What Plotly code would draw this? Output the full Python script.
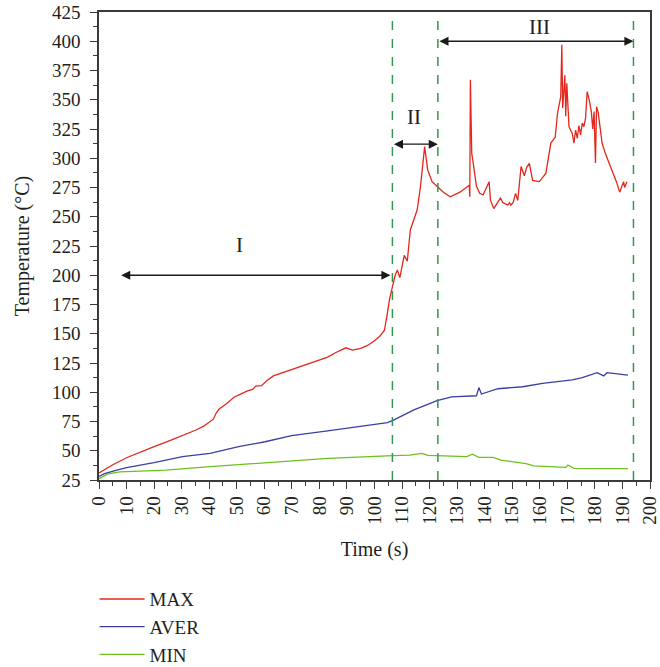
import plotly.graph_objects as go

# ---- data ----
max_t = [0, 5, 10, 15, 20, 25, 30, 35, 38, 40, 41.5, 42.5, 43.5, 46.5, 49, 51, 53.7, 55.9, 56.9, 59, 61, 63.3,
         70.5, 77, 83, 86, 89.6, 92, 95, 97.5, 100, 102, 103.6, 104.5, 105.5, 106.5, 107.5, 108.3, 109.2, 110.8,
         111.9, 113, 114.3, 115.5, 116.7, 118.2, 119.3, 120.9, 122.9, 125, 127.5, 131, 134.4, 134.6, 134.8, 135.3,
         136, 137, 138.2, 139.4, 141.6, 142.1, 143.3, 145.7, 146.6, 148.4, 149, 149.5, 150.3, 151.2, 152, 153.2,
         154.4, 155.2, 156.2, 157.4, 159.8, 162.2, 164, 165.6, 166.4, 167.6, 168, 168.3, 169.1, 169.4,
         169.8, 170.6, 171.8, 172.4, 173, 173.6, 174.2, 174.8, 175.4, 176, 176.6, 177.2, 178, 178.7, 179.2, 179.7,
         180.2, 180.6, 181.2, 182.6, 183.8, 186.2, 187.8, 189, 190.4, 190.8, 191.6]
max_v = [31, 38, 44, 49, 53.5, 58, 62.5, 67.5, 71, 74, 77, 82, 85.5, 90.5, 95.7, 98, 101, 102.6, 105.3, 105.6, 110, 114,
         120, 125, 130, 134, 138, 136, 137.5, 140, 144, 148, 153, 165, 180, 190, 200, 204.5, 198, 217,
         212, 238.7, 247, 256, 276, 310, 290, 280, 275.7, 271, 267, 271, 277, 267, 367, 304,
         293, 276, 270, 268.6, 280, 264, 257, 266, 262, 260, 262, 260, 262, 270, 264, 293,
         285, 292, 295.7, 281, 280, 287, 313, 318, 338, 352.6, 397, 343, 371, 336,
         364, 327, 321, 313, 324, 317, 328, 320, 330, 327, 334, 357, 349, 340, 325, 340,
         296, 344, 339, 313, 304, 290, 280, 271, 280, 275, 280]

aver_t = [0, 2, 5.8, 10, 20, 30.3, 40.3, 50.7, 60.3, 69.9, 83, 97.5, 104.7, 106.7, 114.3, 122.7, 128, 137,
          137.9, 138.8, 144.8, 153.8, 161, 171.8, 175.4, 180.8, 183.2, 184.4, 192]
aver_v = [28, 30.5, 33, 35.5, 39.8, 45, 47.8, 53.5, 57.7, 63, 67, 72, 74, 76, 85, 92.8, 96, 97,
          104, 98.5, 103, 104.7, 107.6, 110.5, 112.5, 116.7, 114, 116.7, 114.7]

min_t = [0, 3, 7.5, 14.7, 24.3, 40.3, 60.3, 83, 106.7, 112.7, 117.3, 119.4, 133.5, 135.5, 137.9, 143, 146,
         155, 157.8, 169.4, 170.2, 172.4, 192]
min_v = [26, 30, 32, 32.6, 33.5, 36.4, 40, 43.5, 45.8, 46.2, 47.8, 46, 45, 47, 44.4, 44.4, 42,
         39, 37, 35.8, 37.8, 35, 34.8]

series_names = ["MAX", "AVER", "MIN"]
series_colors = ["#e3271c", "#3b3fa2", "#6cc11e"]

phase_bounds = [106.5, 123, 194]
phase_labels = ["I", "II", "III"]
phase_arrow_start = [7.5, 106.5, 123]
phase_arrow_end = [105.8, 123, 194]
phase_arrow_y = [200, 312, 400]
phase_label_x = [51, 114.5, 160]
phase_label_y = [226, 335, 412]

FONT = "Liberation Serif, Times New Roman, serif"
TXT = "#231f20"

fig = go.Figure()
for name, tx, vy, col in zip(series_names, [max_t, aver_t, min_t], [max_v, aver_v, min_v], series_colors):
    fig.add_trace(go.Scatter(x=tx, y=vy, mode="lines", name=name,
                             line=dict(color=col, width=1.3)))

for xb in phase_bounds:
    fig.add_shape(type="line", x0=xb, x1=xb, y0=25, y1=418, xref="x", yref="y",
                  line=dict(color="#2e9a4c", width=1.5, dash="dash"))

for lab, xs, xe, ya, lx, ly in zip(phase_labels, phase_arrow_start, phase_arrow_end, phase_arrow_y,
                                   phase_label_x, phase_label_y):
    fig.add_annotation(x=xe, y=ya, ax=xs, ay=ya, xref="x", yref="y", axref="x", ayref="y",
                       text="", showarrow=True, arrowhead=2, arrowside="end+start",
                       arrowsize=1.4, arrowwidth=1.3, arrowcolor="#1a1a1a",
                       standoff=0, startstandoff=0)
    fig.add_annotation(x=lx, y=ly, xref="x", yref="y", text=lab, showarrow=False,
                       font=dict(family=FONT, size=21, color=TXT))

axis_common = dict(showline=True, linecolor="#3a3a3a", linewidth=1.5, mirror=True,
                   ticks="outside", ticklen=7, tickwidth=1.3, tickcolor="#3a3a3a",
                   showgrid=False, zeroline=False, automargin=False, ticklabeloverflow="allow",
                   tickfont=dict(family=FONT, size=19, color=TXT))

fig.update_xaxes(range=[0, 200], dtick=10, tick0=0, tickangle=-90, ticklabelstandoff=0,
                 minor=dict(dtick=5, ticklen=4, ticks="outside", tickcolor="#3a3a3a"),
                 title=dict(text="Time (s)", font=dict(family=FONT, size=20, color=TXT), standoff=18),
                 **axis_common)
fig.update_yaxes(range=[25, 425], dtick=25, tick0=25, ticklabelstandoff=6,
                 minor=dict(dtick=12.5, ticklen=4, ticks="outside", tickcolor="#3a3a3a"),
                 title=dict(text="Temperature (°C)", font=dict(family=FONT, size=20, color=TXT), standoff=17),
                 **axis_common)

fig.update_layout(
    width=660, height=667,
    margin=dict(l=99, r=10, t=12, b=187, autoexpand=False),
    plot_bgcolor="white", paper_bgcolor="white",
    font=dict(family=FONT, size=19, color=TXT),
    showlegend=True,
    legend=dict(x=-0.008, y=-0.214, xanchor="left", yanchor="top", orientation="v",
                font=dict(family=FONT, size=19, color=TXT), itemwidth=45,
                bgcolor="rgba(0,0,0,0)"),
)

fig.write_html("out.html", config={"displayModeBar": False},
               post_script="document.body.style.margin='0';document.body.style.overflow='hidden';")
